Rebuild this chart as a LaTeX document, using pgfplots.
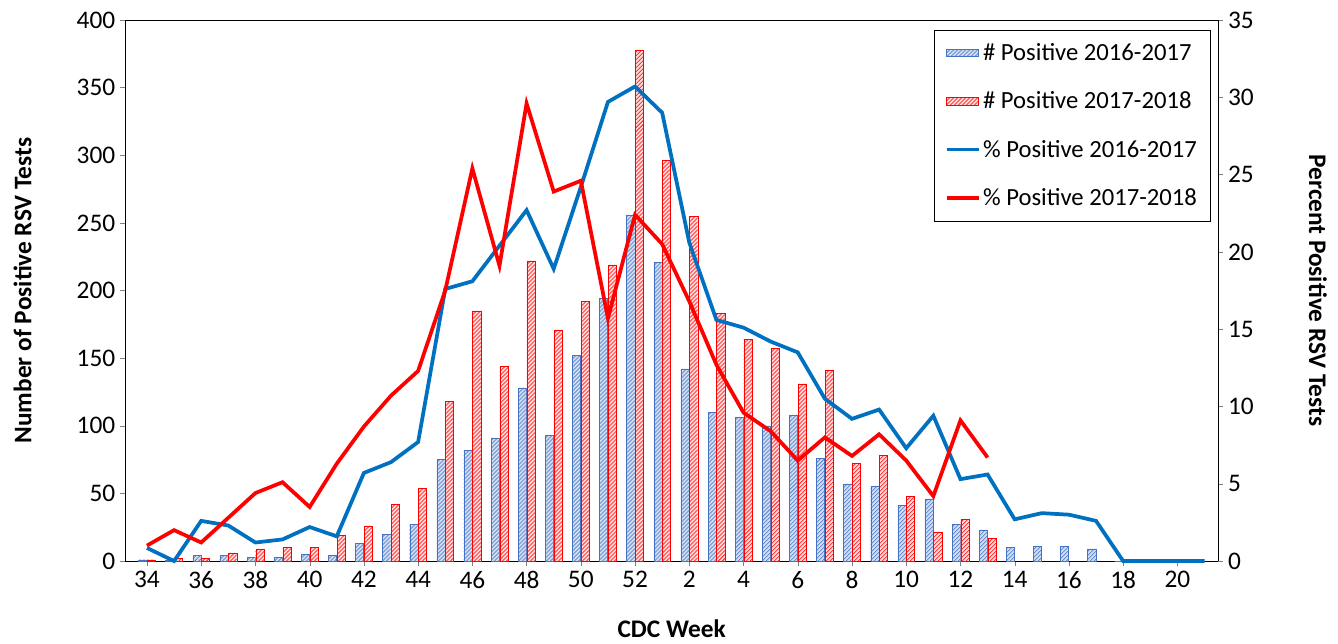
\documentclass[border=0pt]{standalone}
\usepackage{pgfplots}
\pgfplotsset{compat=1.18}
\usetikzlibrary{patterns}
\usepackage{fontspec}
\setmainfont{Carlito}
\definecolor{bbar}{RGB}{68,114,196}
\definecolor{bline}{RGB}{0,112,192}
\pgfplotstableread{
x b r
0 1 1
1 1 2
2 4 2
3 4 6
4 3 9
5 3 10
6 5 10
7 4 19
8 13 26
9 20 42
10 27 54
11 75 118
12 82 185
13 91 144
14 128 222
15 93 171
16 152 192
17 194 219
18 256 378
19 221 296
20 142 255
21 110 183
22 106 164
23 100 157
24 108 131
25 76 141
26 57 72
27 55 78
28 41 48
29 46 21
30 27 31
31 23 17
32 10 nan
33 11 nan
34 11 nan
35 9 nan
36 0 nan
37 0 nan
38 0 nan
39 0 nan
}\bars
\pgfplotstableread{
x b r
0 0.85 1.0
1 0 2.0
2 2.6 1.2
3 2.3 2.8
4 1.2 4.4
5 1.4 5.1
6 2.2 3.5
7 1.6 6.3
8 5.7 8.7
9 6.4 10.7
10 7.7 12.3
11 17.6 17.5
12 18.1 25.4
13 20.4 19.1
14 22.7 29.6
15 18.9 23.9
16 24.2 24.6
17 29.7 15.7
18 30.7 22.4
19 29.0 20.5
20 20.6 16.8
21 15.6 12.7
22 15.1 9.6
23 14.2 8.4
24 13.5 6.5
25 10.5 8.0
26 9.2 6.8
27 9.8 8.2
28 7.3 6.5
29 9.4 4.2
30 5.3 9.1
31 5.6 6.7
32 2.7 nan
33 3.1 nan
34 3.0 nan
35 2.6 nan
36 0 nan
37 0 nan
38 0 nan
39 0 nan
}\pct
\begin{document}
\begin{tikzpicture}
\pgfplotsset{every axis/.append style={scale only axis, width=820pt, height=406pt,
  xmin=-0.8, xmax=39.5, tick label style={font=\fontsize{19}{19}\selectfont},
  /pgf/number format/assume math mode=true, clip=false}}
\begin{axis}[
  axis y line*=left, ymin=0, ymax=400, ytick={0,50,...,400},
  xtick={0,2,...,38}, xticklabels={34,36,38,40,42,44,46,48,50,52,2,4,6,8,10,12,14,16,18,20},
  xtick pos=bottom, tick align=outside, major tick length=4pt,
  ytick pos=left,
  ylabel={\bfseries Number of Positive RSV Tests}, xlabel={\bfseries CDC Week},
  label style={font=\fontsize{19}{19}\selectfont},
  ylabel style={at={(axis description cs:0,0.5)}, anchor=center, yshift=77pt},
  xlabel style={at={(axis description cs:0.5,0)}, anchor=center, yshift=-51pt},
]
\coordinate (O) at (rel axis cs:0,0);
\coordinate (T) at (rel axis cs:1,1);
\addplot[ybar, bar width=0.3, bar shift=-0.16, draw=bbar, line width=0.3pt, fill=bbar!25,
  postaction={pattern=north east lines, pattern color=bbar}] table[x=x,y=b]{\bars};
\addplot[ybar, bar width=0.3, bar shift=0.16, draw=red, line width=0.3pt, fill=red!15,
  postaction={pattern=north east lines, pattern color=red}] table[x=x,y=r]{\bars};
\end{axis}
\begin{axis}[
  axis y line*=right, axis x line=none, ymin=0, ymax=35, ytick={0,5,...,35},
  tick align=outside, major tick length=4pt,
  ylabel={\bfseries Percent Positive RSV Tests},
  ylabel style={at={(axis description cs:1,0.5)}, anchor=center, yshift=-75pt, rotate=180},
  label style={font=\fontsize{19}{19}\selectfont},
  legend style={at={(0.993,0.982)}, anchor=north east, font=\fontsize{18.5}{18.5}\selectfont,
    row sep=18pt, inner sep=8pt, draw=black},
  legend cell align=left, legend image post style={xscale=1.4},
]
\addlegendimage{area legend, draw=bbar, fill=bbar!25, postaction={pattern=north east lines, pattern color=bbar}}
\addlegendentry{\# Positive 2016-2017}
\addlegendimage{area legend, draw=red, fill=red!15, postaction={pattern=north east lines, pattern color=red}}
\addlegendentry{\# Positive 2017-2018}
\addplot[bline, line width=2.8pt, no marks, unbounded coords=jump] table[x=x,y=b]{\pct};
\addlegendentry{\% Positive 2016-2017}
\addplot[red, line width=2.8pt, no marks, unbounded coords=jump] table[x=x,y=r]{\pct};
\addlegendentry{\% Positive 2017-2018}
\end{axis}
\pgfresetboundingbox
\path[use as bounding box] ([shift={(-94pt,-62pt)}]O) rectangle ([shift={(90pt,15pt)}]T);
\end{tikzpicture}
\end{document}
